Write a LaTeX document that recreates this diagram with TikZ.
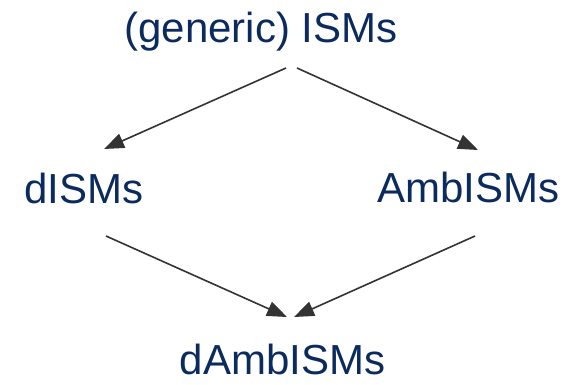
\documentclass[tikz,border=0pt]{standalone}
\usepackage{fontspec}
\setmainfont{Liberation Sans}
\usetikzlibrary{arrows.meta}
\definecolor{navy}{RGB}{11,43,94}
\definecolor{arrowgray}{RGB}{51,51,51}
\tikzset{
  lbl/.style={anchor=base, inner sep=0pt, text=navy, font=\fontsize{42bp}{50bp}\selectfont},
  conn/.style={draw=arrowgray, line width=1.6bp, -{Triangle[length=20bp,width=15bp]}}
}
\begin{document}
\begin{tikzpicture}[x=1bp,y=-1bp]
\useasboundingbox (0,0) rectangle (567,384);
\node[lbl] (ism) at (261,42) {(generic) ISMs};
\node[lbl] (dism) at (84,203) {dISMs};
\node[lbl] (amb) at (468.5,202) {AmbISMs};
\node[lbl] (damb) at (282.5,374) {dAmbISMs};
\coordinate (ismL) at (286,68);
\coordinate (ismR) at (297,68);
\coordinate (dismIn) at (104,149);
\coordinate (ambIn) at (478,150);
\coordinate (dismOut) at (106,236);
\coordinate (ambOut) at (475,236);
\coordinate (dambInL) at (287,317);
\coordinate (dambInR) at (294,317);
\draw[conn] (ismL) -- (dismIn);
\draw[conn] (ismR) -- (ambIn);
\draw[conn] (dismOut) -- (dambInL);
\draw[conn] (ambOut) -- (dambInR);
\end{tikzpicture}
\end{document}
